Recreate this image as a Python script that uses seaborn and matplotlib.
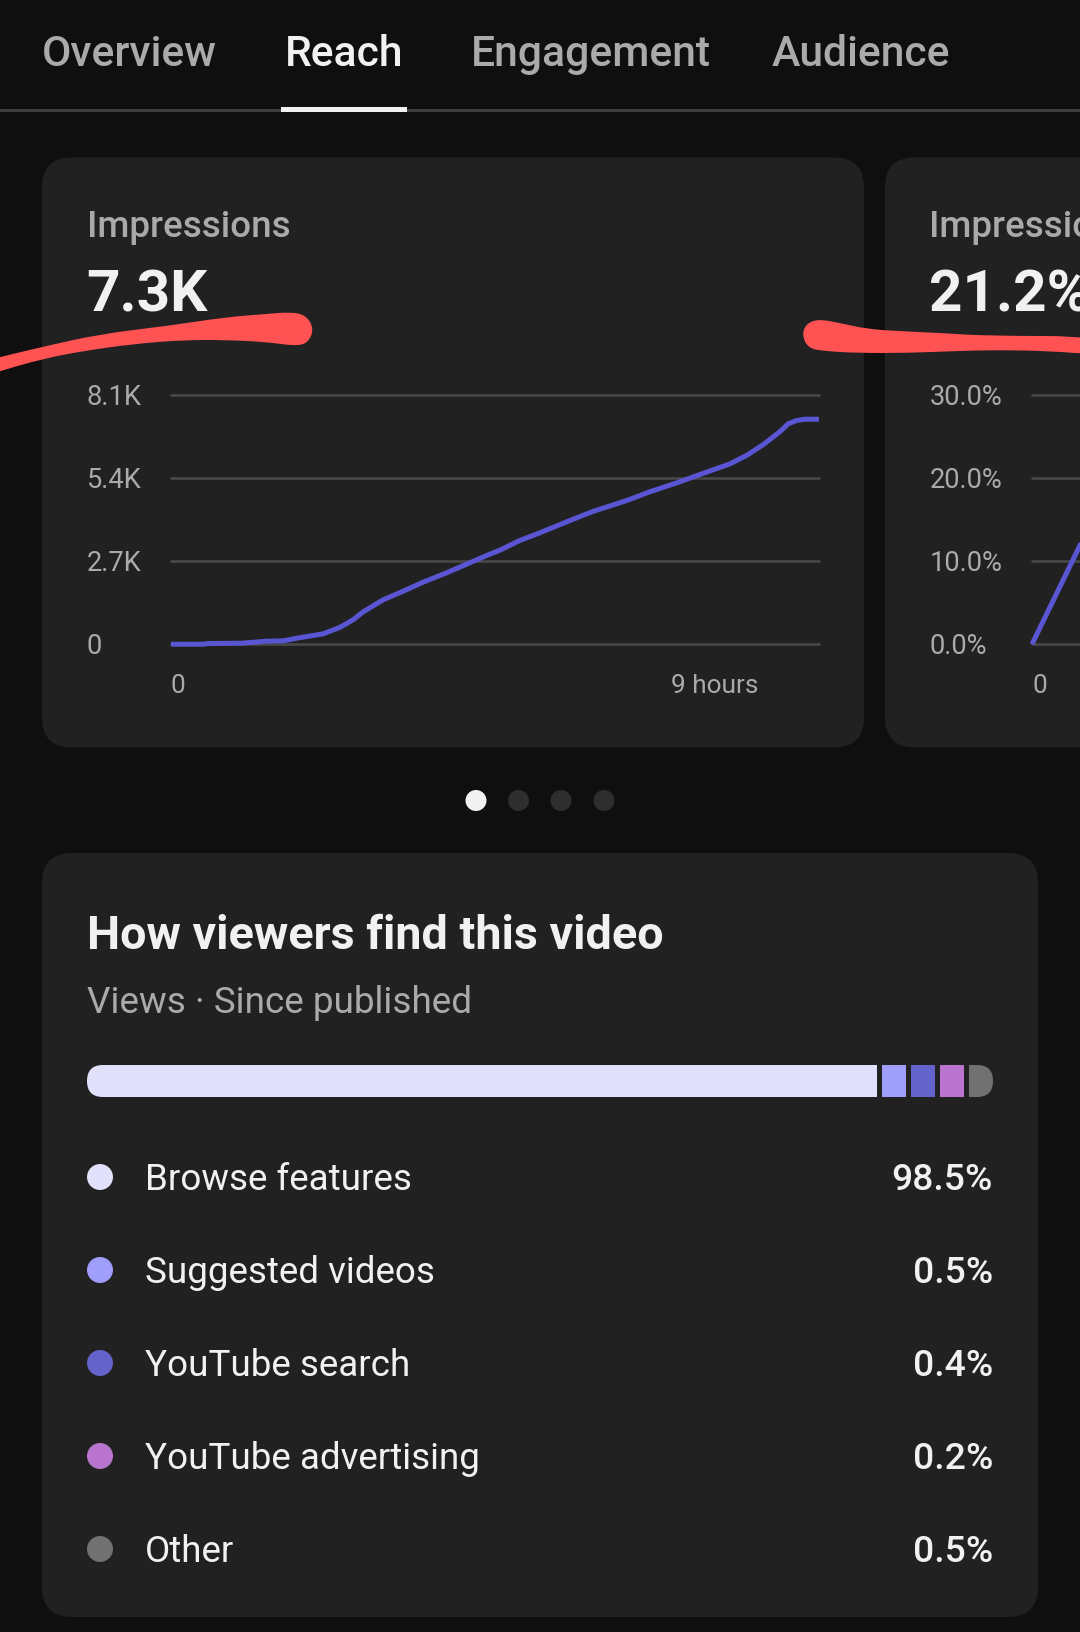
import matplotlib
matplotlib.use("Agg")
import matplotlib.pyplot as plt
from matplotlib.patches import FancyBboxPatch, Circle, Rectangle, PathPatch
from matplotlib.path import Path
from matplotlib.transforms import ScaledTranslation
import seaborn as sns

# ---------- data ----------
tabs = ["Overview", "Reach", "Engagement", "Audience"]
impressions_hours = [0, 0.53, 0.62, 1.17, 1.58, 1.86, 2.08, 2.52, 2.80, 3.02, 3.18, 3.51, 3.84, 4.17,
                     4.56, 4.89, 5.22, 5.44, 5.77, 6.10, 6.60, 6.99, 7.54, 7.92, 8.37, 8.75,
                     9.25, 9.52, 9.80, 10.07, 10.21, 10.35, 10.49, 10.72]
impressions = [0, 0, 22, 33, 98, 110, 195, 338, 553, 803, 1054, 1444, 1724, 2017,
               2323, 2603, 2885, 3058, 3373, 3623, 4024, 4326, 4674, 4957, 5250, 5520,
               5868, 6138, 6496, 6909, 7170, 7277, 7319, 7319]
imp_ticks = [0, 2700, 5400, 8100]
imp_ticklabels = ["0", "2.7K", "5.4K", "8.1K"]
ctr_hours = [0, 1]
ctr = [0, 15]
ctr_ticks = [0, 10, 20, 30]
ctr_ticklabels = ["0.0%", "10.0%", "20.0%", "30.0%"]
sources = ["Browse features", "Suggested videos", "YouTube search", "YouTube advertising", "Other"]
source_pct = ["98.5%", "0.5%", "0.4%", "0.2%", "0.5%"]
source_bar_share = [87.2, 2.65, 2.65, 2.65, 2.65]
source_colors = ["#e2e1fc", "#9f9efb", "#6363cb", "#b974cf", "#717171"]

BG, CARD, GRID, LINE, RED = "#0f0f0f", "#212121", "#484848", "#5a55d3", "#ff5252"
GREY, WHITE = "#aaaaaa", "#f1f1f1"

sns.set_theme(style="dark", rc={"figure.facecolor": BG, "axes.facecolor": "none"})
plt.rcParams["font.family"] = ["Roboto", "DejaVu Sans"]

W, H = 1080, 1633
fig = plt.figure(figsize=(W / 100, H / 100), dpi=100, facecolor=BG)

def px_axes(x0, y0, x1, y1, z=2):
    ax = fig.add_axes([x0 / W, 1 - y1 / H, (x1 - x0) / W, (y1 - y0) / H], zorder=z)
    ax.set_facecolor("none")
    return ax

bg = px_axes(0, 0, W, H, 1)
bg.set_xlim(0, W); bg.set_ylim(H, 0); bg.axis("off")

def card(x0, y0, x1, y1, r=30):
    bg.add_patch(FancyBboxPatch((x0, y0), x1 - x0, y1 - y0,
                                boxstyle=f"round,pad=0,rounding_size={r}",
                                fc=CARD, ec="none", clip_on=False))

card(42, 158.5, 864, 748.5)
card(885, 158.5, 1300, 748.5)
card(42, 854, 1038, 1618)

# tabs
bg.add_patch(Rectangle((0, 110), W, 3, fc="#3f3f3f", ec="none"))
bg.add_patch(Rectangle((281, 108), 126, 5, fc=WHITE, ec="none"))
for t, x, c in zip(tabs, [42, 285, 471, 772], [GREY, WHITE, GREY, GREY]):
    bg.text(x, 66, t, color=c, fontsize=30.7, fontweight="medium", va="baseline")

# card headers
for x, title, val in [(86.5, "Impressions", "7.3K"), (929, "Impressions click-through rate", "21.2%")]:
    bg.text(x, 237, title, color=GREY, fontsize=26.5, fontweight="medium", va="baseline")
    bg.text(x, 311, val, color=WHITE, fontsize=42, fontweight="bold", va="baseline")

# pager
for x, c in zip([476, 518.5, 561, 604], [WHITE, "#2e2e2e", "#2e2e2e", "#2e2e2e"]):
    bg.add_patch(Circle((x, 801.5), 10.5, fc=c, ec="none"))

# line charts
def line_chart(x0, hours, vals, ticks, labels, xticks, xlabels, ymax, pad_px):
    ax = px_axes(x0, 396.2, x0 + 648, 645.2)
    sns.lineplot(x=hours, y=vals, ax=ax, color=LINE, linewidth=3.6, clip_on=False, zorder=3)
    ax.lines[0].set_solid_capstyle("butt")
    ax.set_xlim(0, 10.72); ax.set_ylim(0, ymax)
    ax.set_yticks(ticks); ax.set_yticklabels(labels)
    ax.set_xticks(xticks); ax.set_xticklabels(xlabels)
    ax.tick_params(axis="y", length=0, pad=pad_px * 0.72, labelsize=19.6, labelcolor=GREY)
    ax.tick_params(axis="x", length=0, pad=21, labelsize=18.9, labelcolor=GREY)
    up = ScaledTranslation(0, 1.5 / 100, fig.dpi_scale_trans)
    for l in ax.get_yticklabels():
        l.set_ha("left")
        l.set_va("center_baseline")
        l.set_transform(l.get_transform() + up)
    ax.get_xticklabels()[0].set_ha("left")
    ax.grid(axis="y", color=GRID, lw=1.9, clip_on=False)
    ax.grid(axis="x", visible=False)
    ax.set_xlabel(""); ax.set_ylabel("")
    for s in ax.spines.values():
        s.set_visible(False)
    return ax

line_chart(171, impressions_hours, impressions, imp_ticks, imp_ticklabels, [0, 9], ["0", "9 hours"], 8100, 84.5)
line_chart(1032, ctr_hours, ctr, ctr_ticks, ctr_ticklabels, [0], ["0"], 30, 102.5)

# traffic source card
bg.text(87, 949, "How viewers find this video", color=WHITE, fontsize=33.7, fontweight="bold", va="baseline")
bg.text(87, 1013, "Views · Since published", color=GREY, fontsize=26.6, va="baseline")

clip = FancyBboxPatch((87, 1066), 906, 32, boxstyle="round,pad=0,rounding_size=16", fc="none", ec="none")
bg.add_patch(clip)
ax_bar = px_axes(87, 1066, 993, 1098)
ax_bar.set_xlim(0, 100); ax_bar.set_ylim(0, 1); ax_bar.axis("off")
left = 0
for share, col in zip(source_bar_share, source_colors):
    b = ax_bar.barh(0.5, share, left=left, height=1, color=col, edgecolor="none")
    b[0].set_clip_path(clip)
    left += share + 0.55

ax_leg = px_axes(87, 1131.5, 993, 1596.5)
ax_leg.set_xlim(-13, 893); ax_leg.set_ylim(4.5, -0.5); ax_leg.axis("off")
rows = list(range(len(sources)))
sns.scatterplot(x=[0] * 5, y=rows, ax=ax_leg, c=source_colors, s=350, edgecolor="none", legend=False)
for r, name, pct in zip(rows, sources, source_pct):
    ax_leg.text(45, r - 0.02, name, color=WHITE, fontsize=26.5, va="center_baseline")
    ax_leg.text(893, r - 0.02, pct, color=WHITE, fontsize=26.8, fontweight="medium", ha="right", va="center_baseline")
ax_leg.axis("off")

# hand-drawn red strokes (decoration, smooth outlines)
def blob(pts):
    n = len(pts)
    mid = lambda a, b: ((a[0] + b[0]) / 2, (a[1] + b[1]) / 2)
    verts = [mid(pts[-1], pts[0])]
    codes = [Path.MOVETO]
    for i in range(n):
        verts += [pts[i], mid(pts[i], pts[(i + 1) % n])]
        codes += [Path.CURVE3, Path.CURVE3]
    verts.append(verts[0]); codes.append(Path.CLOSEPOLY)
    return Path(verts, codes)

ov = px_axes(0, 0, W, H, 5)
ov.set_xlim(0, W); ov.set_ylim(H, 0); ov.axis("off")
stroke_a = [(-30, 366), (0, 358), (42, 348), (100, 335), (167, 327), (227, 318), (267, 315), (290, 313),
            (306, 316), (314, 330), (308, 344), (295, 347), (267, 343), (227, 341), (183, 341),
            (133, 345), (83, 352), (42, 360), (0, 372), (-30, 382)]
stroke_b = [(1100, 337), (990, 337), (940, 334), (897, 332), (867, 330), (840, 324), (818, 320), (806, 325),
            (802, 336), (808, 349), (823, 352), (857, 354), (907, 354), (957, 352), (997, 351),
            (1050, 352), (1100, 356)]
for s in (stroke_a, stroke_b):
    ov.add_patch(PathPatch(blob(s), fc=RED, ec="none", clip_on=False))

fig.savefig("out.png", dpi=100, facecolor=BG)
